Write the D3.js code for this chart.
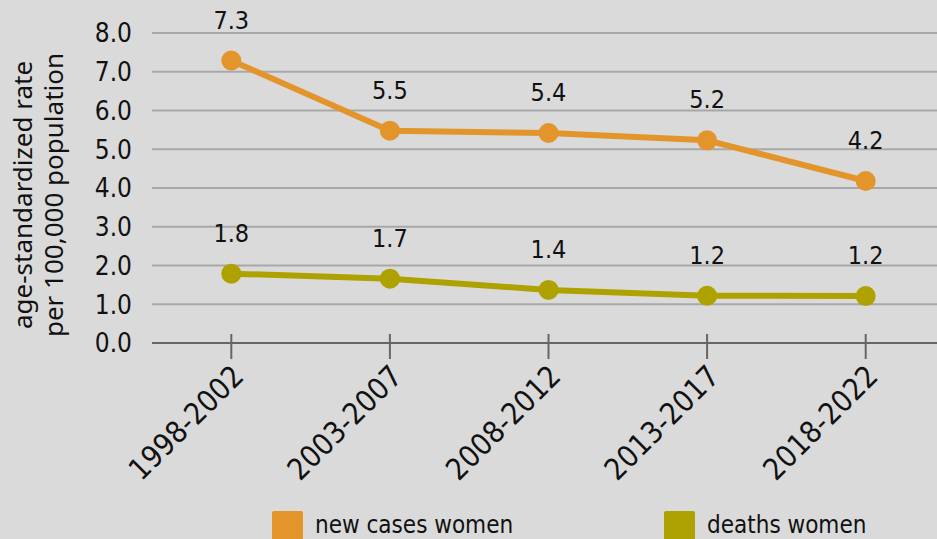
<!DOCTYPE html>
<html><head><meta charset="utf-8">
<script src="https://cdn.jsdelivr.net/npm/d3@7"></script>
<style>
html,body{margin:0;padding:0;background:#dadada;}
svg{display:block;}
text{font-family:"DejaVu Sans Condensed","DejaVu Sans",sans-serif;font-stretch:condensed;fill:#111;}
</style></head>
<body>
<script>
const categories = ["1998-2002","2003-2007","2008-2012","2013-2017","2018-2022"];
const newCases = [7.29, 5.48, 5.42, 5.23, 4.18];
const deaths = [1.79, 1.66, 1.37, 1.22, 1.21];
const yTicks = [0,1,2,3,4,5,6,7,8];
const seriesNames = ["new cases women","deaths women"];
const seriesColors = ["#e3952b","#ada200"];

(function(){
const W = 937, H = 539;
const svg = d3.select("body").append("svg").attr("width",W).attr("height",H);
svg.append("rect").attr("width",W).attr("height",H).attr("fill","#dadada");

const pLeft = 152, pRight = 945, pTop = 33, pBottom = 343;
const x = d3.scalePoint().domain(categories).range([pLeft,pRight]).padding(0.5);
const y = d3.scaleLinear().domain([0,8]).range([pBottom,pTop]);

// gridlines
svg.append("g").selectAll("line").data(yTicks.filter(d=>d>0)).join("line")
  .attr("x1",pLeft).attr("x2",W).attr("y1",d=>y(d)).attr("y2",d=>y(d))
  .attr("stroke","#a8a8a8").attr("stroke-width",2);

// y tick labels
svg.append("g").selectAll("text").data(yTicks).join("text")
  .attr("x",pLeft-20).attr("y",d=>y(d)).attr("dy","0.36em")
  .attr("text-anchor","end").style("font-size","26px")
  .text(d=>d.toFixed(1));

// x axis line
svg.append("line").attr("x1",pLeft).attr("x2",W).attr("y1",y(0)).attr("y2",y(0))
  .attr("stroke","#666").attr("stroke-width",2);
// x ticks
svg.append("g").selectAll("line").data(categories).join("line")
  .attr("x1",d=>x(d)).attr("x2",d=>x(d)).attr("y1",y(0)-9).attr("y2",y(0)+16)
  .attr("stroke","#666").attr("stroke-width",2);
// x labels
svg.append("g").selectAll("text").data(categories).join("text")
  .attr("transform",d=>`translate(${x(d)+14},${y(0)+35}) rotate(-45)`)
  .attr("text-anchor","end").style("font-size","30px")
  .text(d=>d);

// y axis title
const yt = svg.append("text").attr("transform",`translate(23,${(pTop+pBottom)/2+7}) rotate(-90)`)
  .attr("text-anchor","middle").style("font-family","'Noto Sans',sans-serif").style("font-stretch","normal").style("font-size","26px");
yt.append("tspan").attr("x",0).attr("dy","0.35em").text("age-standardized rate");
yt.append("tspan").attr("x",0).attr("dy","1.2em").text("per 100,000 population");

// series
const series = [newCases, deaths];
const line = d3.line().x((d,i)=>x(categories[i])).y(d=>y(d));
series.forEach((vals,si)=>{
  svg.append("path").datum(vals).attr("d",line).attr("fill","none")
    .attr("stroke",seriesColors[si]).attr("stroke-width",6).attr("stroke-linejoin","round");
  svg.append("g").selectAll("circle").data(vals).join("circle")
    .attr("cx",(d,i)=>x(categories[i])).attr("cy",d=>y(d)).attr("r",10)
    .attr("fill",seriesColors[si]);
  svg.append("g").selectAll("text").data(vals).join("text")
    .attr("x",(d,i)=>x(categories[i])).attr("y",d=>y(d)-32)
    .attr("text-anchor","middle").style("font-size","25px")
    .text(d=>d.toFixed(1));
});

// legend
const legX = [272, 664];
seriesNames.forEach((n,i)=>{
  svg.append("rect").attr("x",legX[i]).attr("y",511).attr("width",31).attr("height",32)
    .attr("rx",2).attr("fill",seriesColors[i]);
  svg.append("text").attr("x",legX[i]+43).attr("y",525).attr("dy","0.35em")
    .style("font-size","24px").text(n);
});
})();
</script>
</body></html>
